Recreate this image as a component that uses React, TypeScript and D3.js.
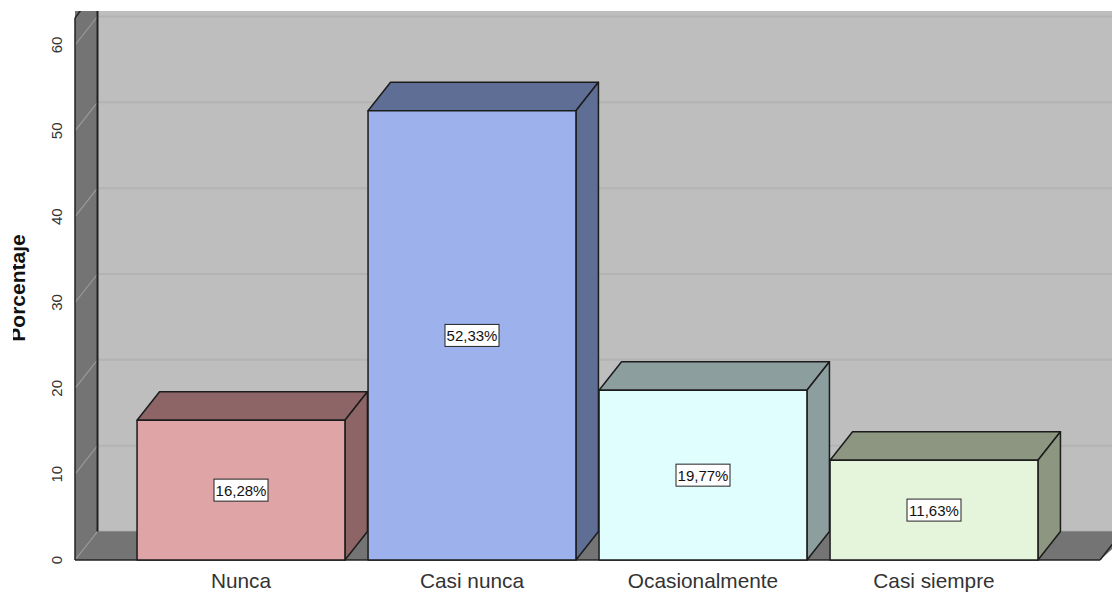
import React from "react";
import * as d3 from "d3";

const categories = ["Nunca", "Casi nunca", "Ocasionalmente", "Casi siempre"];
const percentages = [16.28, 52.33, 19.77, 11.63];
const percentLabels = ["16,28%", "52,33%", "19,77%", "11,63%"];
const frontColors = ["#dfa4a6", "#9db2ec", "#e0fefe", "#e5f5dc"];
const darkColors = ["#8d6566", "#5f6e95", "#8c9e9e", "#8d9680"];
const yTicks = [0, 10, 20, 30, 40, 50, 60];

const W = 1112, H = 593;
const DX = 22.5, DY = 28.5;
const y = d3.scaleLinear().domain([0, 60]).range([560, 45]);
const x = d3.scaleBand<string>().domain(categories).range([125.5, 1049.5]).paddingInner(0.1).paddingOuter(0.05);
const AX = 75, AR = 1100, TOP = 11;
const line = d3.line();
const poly = (p: [number, number][]) => line(p)! + "Z";

export default function App() {
  return (
    <svg width={W} height={H} style={{ position: "absolute", left: 0, top: 0, background: "#fff" }}>
      <defs>
        <clipPath id="plot"><rect x={0} y={TOP} width={W} height={H - TOP} /></clipPath>
        <clipPath id="title"><rect x={13} y={0} width={40} height={H} /></clipPath>
      </defs>
      <g clipPath="url(#plot)">
        <rect x={AX + DX} y={TOP} width={W} height={y(0) - DY - TOP} fill="#bebebe" />
        {yTicks.map(t => (
          <line key={t} x1={AX + DX} x2={W} y1={y(t) - DY} y2={y(t) - DY} stroke="#b3b3b3" strokeWidth={2} />
        ))}
        <path d={poly([[AX, y(0)], [AX + DX, y(0) - DY], [W + 20, y(0) - DY], [AR, y(0)]])} fill="#747474" />
        <line x1={AX + DX} x2={W} y1={y(0) - DY} y2={y(0) - DY} stroke="#8a8a8a" strokeWidth={1} />
        <path d={poly([[AX, y(0)], [AX + DX, y(0) - DY], [AX + DX, 0], [AX, 0]])} fill="#747474" />
        {yTicks.map(t => (
          <line key={t} x1={AX} x2={AX + DX} y1={y(t)} y2={y(t) - DY} stroke="#9a9a9a" strokeWidth={1.2} />
        ))}
        <line x1={AX} x2={AX} y1={y(60) - 27} y2={y(0)} stroke="#222" strokeWidth={1.5} />
        <line x1={AX} x2={AX + 6} y1={y(60) - 27} y2={TOP - 1} stroke="#222" strokeWidth={1.5} />
        <line x1={AX + DX} x2={AX + DX} y1={TOP} y2={y(0) - DY} stroke="#222" strokeWidth={2} />
        <line x1={AX} x2={AR} y1={y(0)} y2={y(0)} stroke="#222" strokeWidth={1.5} />
        <line x1={AR} x2={AR + DX} y1={y(0)} y2={y(0) - DY} stroke="#222" strokeWidth={1.5} />
        {percentages.map((v, i) => {
          const x0 = x(categories[i])!, x1 = x0 + x.bandwidth(), yt = y(v), yb = y(0);
          const stroke = { stroke: "#1c1c1c", strokeWidth: 1.5, strokeLinejoin: "round" as const };
          return (
            <g key={categories[i]}>
              <path d={poly([[x0, yt], [x0 + DX, yt - DY], [x1 + DX, yt - DY], [x1, yt]])} fill={darkColors[i]} {...stroke} />
              <path d={poly([[x1, yt], [x1 + DX, yt - DY], [x1 + DX, yb - DY], [x1, yb]])} fill={darkColors[i]} {...stroke} />
              <rect x={x0} y={yt} width={x1 - x0} height={yb - yt} fill={frontColors[i]} {...stroke} />
            </g>
          );
        })}
      </g>
      {percentages.map((v, i) => {
        const cx = x(categories[i])! + x.bandwidth() / 2, cy = (y(v) + y(0)) / 2;
        return (
          <g key={i}>
            <rect x={cx - 27} y={cy - 11} width={54} height={22} fill="#fff" stroke="#222" strokeWidth={1} />
            <text x={cx} y={cy + 5.5} textAnchor="middle" fontFamily="Liberation Sans" fontSize={15} fill="#111">{percentLabels[i]}</text>
          </g>
        );
      })}
      {categories.map(c => (
        <text key={c} x={x(c)! + x.bandwidth() / 2} y={588} textAnchor="middle" fontFamily="Liberation Sans" fontSize={20.8} fill="#333">{c}</text>
      ))}
      {yTicks.map(t => (
        <text key={t} transform={`translate(62,${y(t)}) rotate(-90)`} textAnchor="middle" fontFamily="Liberation Sans" fontSize={15} fill="#333">{t}</text>
      ))}
      <g clipPath="url(#title)">
        <text transform="translate(25,288) rotate(-90)" textAnchor="middle" fontFamily="Liberation Sans" fontWeight="bold" fontSize={21} fill="#111">Porcentaje</text>
      </g>
    </svg>
  );
}
